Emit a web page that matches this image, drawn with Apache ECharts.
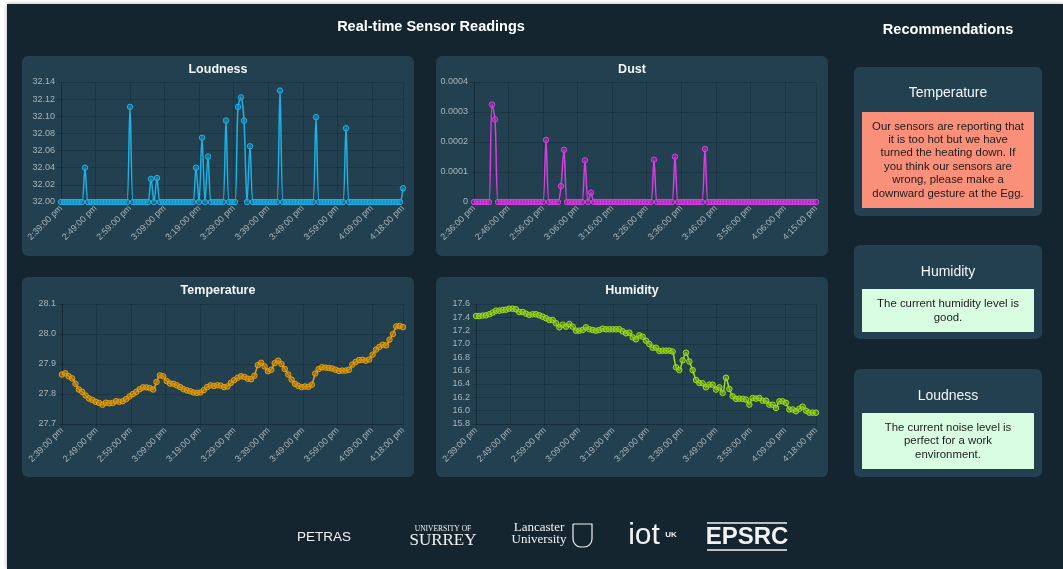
<!DOCTYPE html>
<html><head><meta charset="utf-8">
<script src="https://cdn.jsdelivr.net/npm/echarts@6/dist/echarts.min.js"></script>
<style>html,body{margin:0;padding:0;background:#fff;}#c{width:1063px;height:569px;}</style>
</head><body><div id="c"></div><script>
// ---- data ----
const SPAN = 99; // minutes covered by each chart
const loudStartMin = 14*60+39, dustStartMin = 14*60+36, tempStartMin = 14*60+39, humStartMin = 14*60+39;

const loudness = [32,32,32,32,32,32,32,32,32.04,32,32,32,32,32,32,32,32,32,32,32,32,32,32,32.111,32,32,32,32,32,32,
32.027,32,32.028,32,32,32,32,32,32,32,32,32,32,32,32,32.04,32,32.075,32,32.053,32,32,32,32,32,32.095,32,32,32,32.111,
32.122,32.095,32,32.065,32,32,32,32,32,32,32,32,32,32.13,32,32,32,32,32,32,32,32,32,32,32,32.099,32,32,32,32,
32,32,32,32,32,32.086,32,32,32,32,32,32,32,32,32,32,32,32,32,32,32,32,32,32,32.016];

const dust = [0,0,0,0,0,0,0.000325,0.000275,0,0,0,0,0,0,0,0,0,0,0,0,0,0,0,0,0.000207,0,0,0,0,0.000053,
0.000174,0,0,0,0,0,0,0.000139,0,0.000031,0,0,0,0,0,0,0,0,0,0,0,0,0,0,0,0,0,0,0,0,
0.000141,0,0,0,0,0,0,0.000151,0,0,0,0,0,0,0,0,0,0.000177,0,0,0,0,0,0,0,0,0,0,0,0,
0,0,0,0,0,0,0,0,0,0,0,0,0,0,0,0,0,0,0,0,0,0,0,0,0];

const temperature = [27.865,27.869,27.859,27.852,27.834,27.815,27.807,27.795,27.785,27.780,
27.774,27.770,27.764,27.771,27.769,27.770,27.776,27.774,27.776,27.783,
27.792,27.800,27.807,27.816,27.822,27.822,27.820,27.815,27.840,27.862,
27.859,27.843,27.835,27.834,27.829,27.823,27.816,27.812,27.809,27.805,
27.804,27.805,27.813,27.823,27.829,27.827,27.829,27.828,27.823,27.825,
27.837,27.846,27.854,27.859,27.857,27.851,27.849,27.861,27.896,27.904,
27.892,27.876,27.881,27.903,27.911,27.900,27.883,27.865,27.848,27.834,
27.827,27.823,27.825,27.824,27.831,27.868,27.883,27.889,27.888,27.887,
27.885,27.881,27.877,27.878,27.878,27.881,27.898,27.907,27.913,27.914,
27.911,27.915,27.931,27.948,27.957,27.964,27.962,27.981,28.000,28.025,
28.027,28.023];

const humidity = [17.42,17.42,17.426,17.43,17.446,17.47,17.50,17.50,17.51,17.515,
17.53,17.53,17.52,17.48,17.48,17.456,17.436,17.446,17.446,17.43,
17.41,17.386,17.36,17.36,17.31,17.25,17.29,17.26,17.30,17.26,
17.20,17.20,17.21,17.25,17.22,17.21,17.20,17.21,17.23,17.22,
17.22,17.22,17.22,17.22,17.19,17.16,17.17,17.10,17.07,17.13,
17.11,17.05,17.00,16.945,16.945,16.896,16.90,16.90,16.90,16.886,
16.65,16.61,16.757,16.87,16.737,16.608,16.46,16.415,16.41,16.35,
16.39,16.39,16.316,16.35,16.266,16.494,16.325,16.216,16.177,16.18,
16.177,16.167,16.09,16.19,16.18,16.19,16.15,16.15,16.09,16.09,
16.04,16.14,16.14,16.117,16.018,16.018,15.993,16.028,16.06,16.0,
15.97,15.97,15.97];

const chartTitles = ['Loudness','Dust','Temperature','Humidity'];
const cardTitles = ['Temperature','Humidity','Loudness'];
const cardTexts = [
 'Our sensors are reporting that\nit is too hot but we have\nturned the heating down. If\nyou think our sensors are\nwrong, please make a\ndownward gesture at the Egg.',
 'The current humidity level is\ngood.',
 'The current noise level is\nperfect for a work\nenvironment.'
];

// ---- styling ----
const BG = '#152530', PANEL = '#22404f', GRID = 'rgba(0,0,0,0.16)', LABEL = '#aab4b9';
const FONT = '"Liberation Sans", Arial, Helvetica, sans-serif';

function fmtTime(start, v){
  const t = Math.round(start + v);
  const h = Math.floor(t/60), m = t % 60;
  const hh = ((h + 11) % 12) + 1;
  return hh + ':' + String(m).padStart(2,'0') + ':00 pm';
}
function xAx(gi, start){
  return {type:'value', gridIndex:gi, min:0, max:SPAN, interval:10,
    axisLine:{show:true, lineStyle:{color:GRID}},
    axisTick:{show:true, length:4, lineStyle:{color:GRID}},
    splitLine:{show:true, lineStyle:{color:GRID}},
    axisLabel:{rotate:45, fontSize:9, fontFamily:FONT, color:LABEL, margin:5,
      showMaxLabel:true, showMinLabel:true, hideOverlap:false,
      formatter:v=>fmtTime(start, v)}};
}
function yAx(gi, min, max, interval, fmt){
  return {type:'value', gridIndex:gi, min, max, interval,
    axisLine:{show:true, lineStyle:{color:GRID}},
    axisTick:{show:true, length:4, lineStyle:{color:GRID}},
    splitLine:{show:true, lineStyle:{color:GRID}},
    axisLabel:{fontSize:9, fontFamily:FONT, color:LABEL, margin:6, formatter:fmt}};
}
function ser(gi, vals, color, fill){
  return {type:'line', xAxisIndex:gi, yAxisIndex:gi,
    data: vals.map((v,i)=>[i*SPAN/(vals.length-1), v]),
    smooth:0.3, symbol:'circle', symbolSize:5.5, showAllSymbol:true,
    lineStyle:{color, width:1.5}, itemStyle:{color:fill, borderColor:color, borderWidth:1},
    emphasis:{disabled:true}};
}

const panels = [[22,56],[436,56],[22,277],[436,277]];
const cards = [[67,149,112,96,93,160,'#fa8f7a'],[245,94,289,43,272,311,'#d9fde1'],[369,108,413,56,396,441,'#d9fde1']];

const elements = [];
elements.push({type:'rect', z:-20, shape:{x:7,y:4,width:1056,height:565}, style:{fill:BG, shadowBlur:4, shadowColor:'rgba(0,0,0,0.35)'}});
panels.forEach((p,i)=>{
  elements.push({type:'rect', z:-10, shape:{x:p[0],y:p[1],width:392,height:200,r:6}, style:{fill:PANEL}});
  elements.push({type:'text', z:50, style:{text:chartTitles[i], x:p[0]+196, y:p[1]+14, fill:'#f4f6f7',
    fontSize:12.5, fontWeight:'bold', fontFamily:FONT, align:'center', verticalAlign:'middle'}});
});
cards.forEach((c,i)=>{
  elements.push({type:'rect', z:-10, shape:{x:854,y:c[0],width:188,height:c[1],r:6}, style:{fill:PANEL}});
  elements.push({type:'rect', z:-5, shape:{x:862,y:c[2],width:172,height:c[3]}, style:{fill:c[6]}});
  elements.push({type:'text', z:50, style:{text:cardTitles[i], x:948, y:c[4], fill:'#f4f6f7',
    fontSize:14, fontFamily:FONT, align:'center', verticalAlign:'middle'}});
  elements.push({type:'text', z:50, style:{text:cardTexts[i], x:948, y:c[5], fill:'#1c1c1c',
    fontSize:11.4, lineHeight:13.4, fontFamily:FONT, align:'center', verticalAlign:'middle'}});
});
elements.push({type:'text', z:50, style:{text:'Real-time Sensor Readings', x:431, y:27, fill:'#ffffff',
  fontSize:14.5, fontWeight:'bold', fontFamily:FONT, align:'center', verticalAlign:'middle'}});
elements.push({type:'text', z:50, style:{text:'Recommendations', x:948, y:30, fill:'#ffffff',
  fontSize:14.6, fontWeight:'bold', fontFamily:FONT, align:'center', verticalAlign:'middle'}});
// footer logos (as text)
const W = '#f2f2f2';
elements.push({type:'text', z:50, style:{text:'PETRAS', x:324, y:537, fill:W, fontSize:13.5, fontFamily:FONT, align:'center', verticalAlign:'middle'}});
elements.push({type:'text', z:50, style:{text:'UNIVERSITY OF', x:443, y:529, fill:W, fontSize:7.5, fontFamily:'"Liberation Serif", serif', align:'center', verticalAlign:'middle'}});
elements.push({type:'text', z:50, style:{text:'SURREY', x:443, y:541, fill:W, fontSize:17, fontFamily:'"Liberation Serif", serif', align:'center', verticalAlign:'middle'}});
elements.push({type:'text', z:50, style:{text:'Lancaster\nUniversity', x:539, y:534, fill:W, fontSize:13, lineHeight:12, fontFamily:'"Liberation Serif", serif', align:'center', verticalAlign:'middle'}});
elements.push({type:'rect', z:50, shape:{x:573,y:524,width:19,height:23,r:[0,0,8,8]}, style:{fill:'none', stroke:W, lineWidth:1.2}});
elements.push({type:'text', z:50, style:{text:'iot', x:644, y:536, fill:W, fontSize:30, fontFamily:FONT, align:'center', verticalAlign:'middle'}});
elements.push({type:'text', z:50, style:{text:'UK', x:671, y:535, fill:W, fontSize:8, fontWeight:'bold', fontFamily:FONT, align:'center', verticalAlign:'middle'}});
elements.push({type:'text', z:50, style:{text:'EPSRC', x:747, y:537, fill:W, fontSize:24, fontWeight:'bold', fontFamily:FONT, align:'center', verticalAlign:'middle'}});
elements.push({type:'line', z:50, shape:{x1:707,y1:523,x2:787,y2:523}, style:{stroke:W, lineWidth:1.5}});
elements.push({type:'line', z:50, shape:{x1:707,y1:550,x2:787,y2:550}, style:{stroke:W, lineWidth:1.5}});

const chart = echarts.init(document.getElementById('c'), null, {renderer:'canvas'});
chart.setOption({
  animation:false,
  backgroundColor:'transparent',
  textStyle:{fontFamily:FONT},
  grid:[
    {left:61, top:82, width:342, height:120},
    {left:474, top:82, width:342, height:120},
    {left:62, top:304, width:341, height:120},
    {left:476, top:304, width:340, height:120}
  ],
  xAxis:[xAx(0, loudStartMin), xAx(1, dustStartMin), xAx(2, tempStartMin), xAx(3, humStartMin)],
  yAxis:[
    yAx(0, 32, 32.14, 0.02, v=>v.toFixed(2)),
    yAx(1, 0, 0.0004, 0.0001, v=>v===0?'0':v.toFixed(4)),
    yAx(2, 27.7, 28.1, 0.1, v=>v.toFixed(1)),
    yAx(3, 15.8, 17.6, 0.2, v=>v.toFixed(1))
  ],
  series:[
    ser(0, loudness, '#1cb2e6', 'rgba(28,140,190,0.55)'),
    ser(1, dust, '#d83ee2', 'rgba(170,50,180,0.55)'),
    ser(2, temperature, '#eaa20a', 'rgba(190,130,10,0.6)'),
    ser(3, humidity, '#a2e21c', 'rgba(120,170,20,0.55)')
  ],
  graphic:{elements}
});
</script></body></html>
